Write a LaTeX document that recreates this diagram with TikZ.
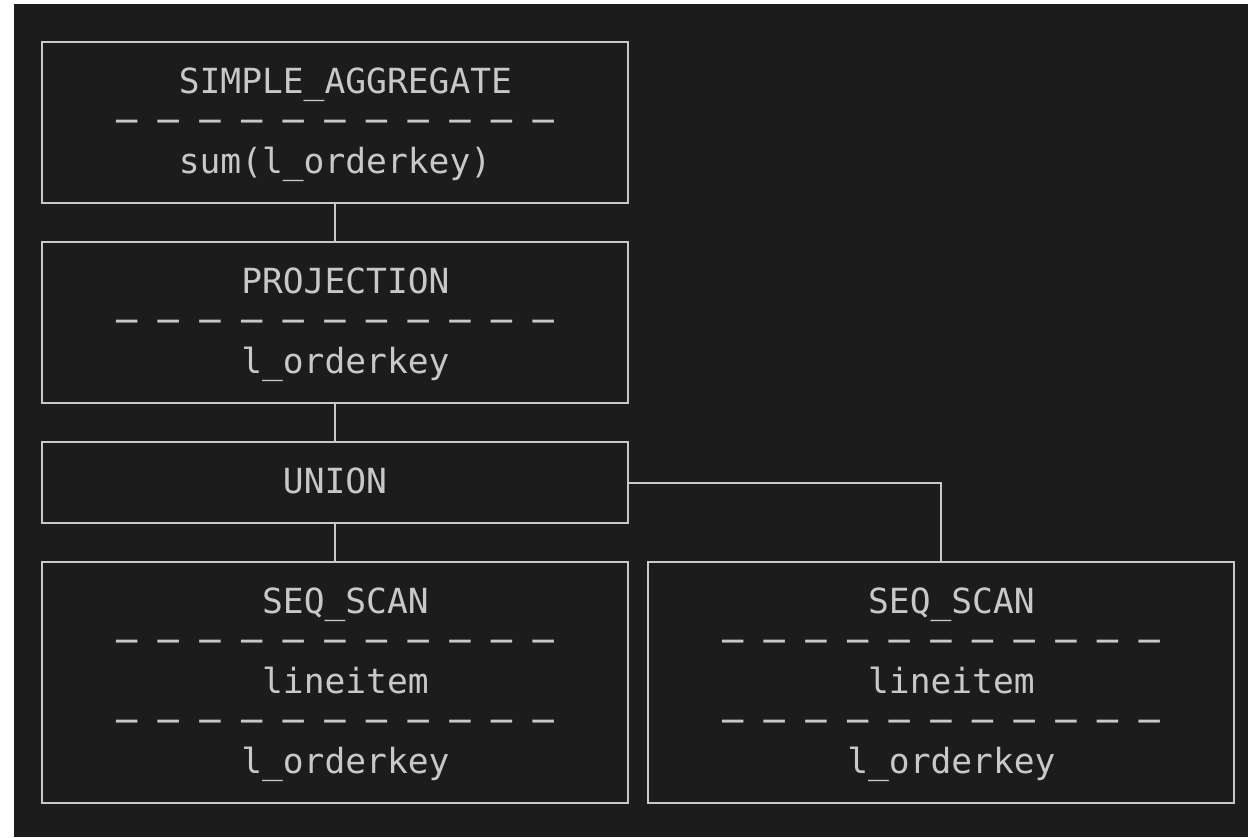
\documentclass[tikz,border=0pt]{standalone}
\usepackage{fontspec}
\setmonofont{DejaVu Sans Mono}
\definecolor{bgdark}{HTML}{1C1C1C}
\definecolor{linegray}{HTML}{C8C8C8}
\newcommand{\planrow}[1]{\rule[-4.75pt]{0pt}{20pt}#1}
% even-length rows sit half a cell to the right
\newcommand{\planeven}[1]{\planrow{\hphantom{x}#1}}
\newcommand{\planrule}{\planrow{─ ─ ─ ─ ─ ─ ─ ─ ─ ─ ─}}
\tikzset{%
  opbox/.style  = {shape=rectangle, draw=linegray, line width=1pt,%
                   align=center, inner sep=0pt, minimum width=293pt,%
                   text=linegray,%
                   font=\ttfamily\fontsize{17.3}{20}\selectfont},%
  op2/.style    = {opbox, minimum height=40.5pt},%
  op4/.style    = {opbox, minimum height=80.5pt},%
  op6/.style    = {opbox, minimum height=120.5pt},%
  planedge/.style = {draw=linegray, line width=1pt}%
}
\begin{document}
\begin{tikzpicture}[x=0.5pt,y=-0.5pt]
	\useasboundingbox (0,0) rectangle (1248,837);
	\fill[white] (0,0) rectangle (1248,837);
	\fill[bgdark] (14,4) rectangle (1248,837);
	% operator boxes
	\node[op4] (agg) at (335,122.5)
		{\planeven{SIMPLE\_AGGREGATE}\\ \planrule\\ \planrow{sum(l\_orderkey)}};
	\node[op4] (proj) at (335,322.5)
		{\planeven{PROJECTION}\\ \planrule\\ \planeven{l\_orderkey}};
	\node[op2] (union) at (335,482.5) {\planrow{UNION}};
	\node[op6] (scanl) at (335,682.5)
		{\planeven{SEQ\_SCAN}\\ \planrule\\ \planeven{lineitem}\\ \planrule\\ \planeven{l\_orderkey}};
	\node[op6] (scanr) at (941,682.5)
		{\planeven{SEQ\_SCAN}\\ \planrule\\ \planeven{lineitem}\\ \planrule\\ \planeven{l\_orderkey}};
	% edges
	\path[planedge] (agg) -- (proj);
	\path[planedge] (proj) -- (union);
	\path[planedge] (union) -- (scanl);
	\path[planedge] (union.east) -| (scanr.north);
\end{tikzpicture}
\end{document}
